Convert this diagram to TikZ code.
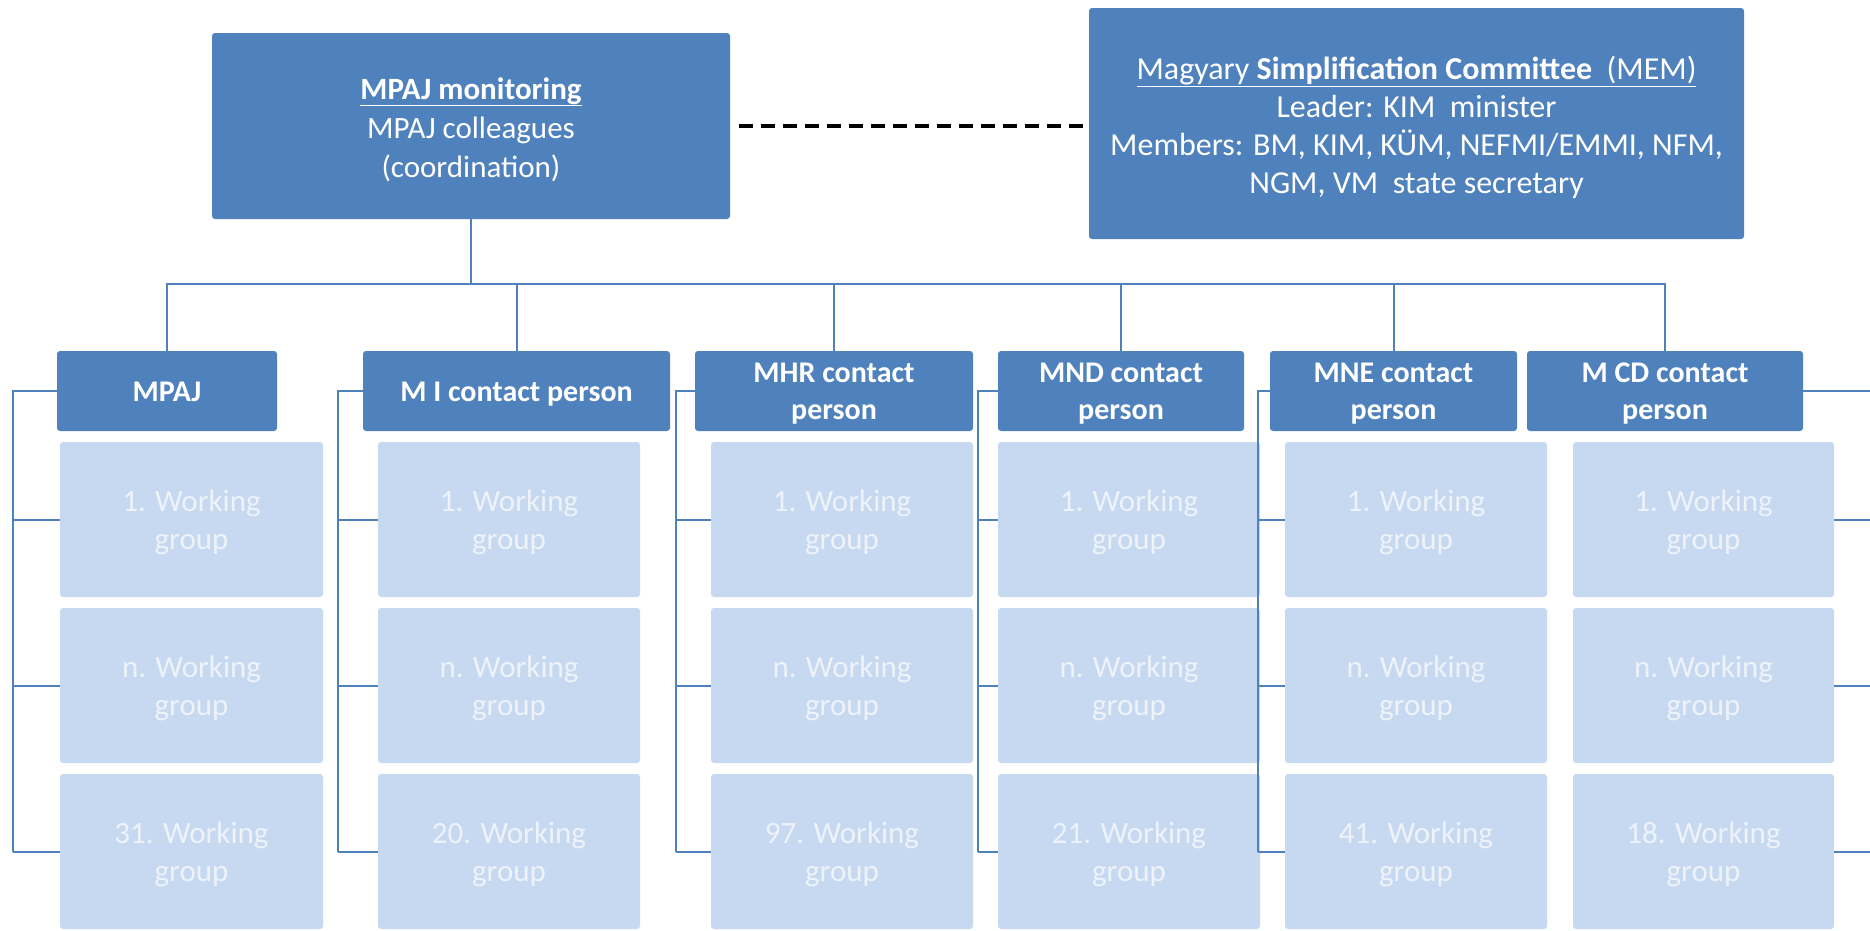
\documentclass[tikz,border=0pt]{standalone}
\usepackage{fontspec}
\setmainfont{Carlito}
\usetikzlibrary{positioning}
\definecolor{boxblue}{HTML}{4F81BD}
\definecolor{wgfill}{HTML}{C6D9F1}
\definecolor{wgtext}{HTML}{EEF3FA}
\newcommand{\fsz}[2]{\fontsize{#1}{#2}\selectfont}

\begin{document}
\begin{tikzpicture}[x=1pt,y=-1pt,
        topbox/.style={fill=boxblue,rounded corners=3pt,text=white,align=center,inner sep=0pt,text depth=0pt},
        headbox/.style={topbox,minimum height=80pt,font=\bfseries\fsz{30}{37}},
        wgbox/.style={fill=wgfill,rounded corners=3pt,text=wgtext,align=center,inner sep=0pt,minimum height=155pt,text height=60.5pt,text depth=0pt,font=\fsz{31}{38}},
        link/.style={draw=boxblue,line width=2pt},
        dashlink/.style={draw=black,line width=4pt,dash pattern=on 14pt off 8pt,shorten <=9pt}]
        \useasboundingbox (0,0) rectangle (1870,930);
        \clip (0,0) rectangle (1870,930);
        \node[topbox,minimum width=518pt,minimum height=186pt,text height=102pt,font=\fsz{31}{39}] (mon) at (471,126) {\underline{\textbf{MPAJ monitoring}}\\MPAJ colleagues\\(coordination)};
        \node[topbox,minimum width=655pt,minimum height=231pt,text height=139.5pt,font=\fsz{32}{38}] (mem) at (1416.5,123.5) {\underline{Magyary \textbf{Simplification Committee}\ \ (MEM)}\\Leader: KIM\ \ minister\\Members: BM, KIM, KÜM, NEFMI/EMMI, NFM,\\NGM, VM\ \ state secretary};
        \draw[dashlink] (mon.east) -- (mon.east -| mem.west);
        % columns: name / header left / header right / group left / group right / bracket x / side / last group / text height / title
        \foreach \id/\hl/\hr/\wl/\wr/\bx/\side/\last/\th/\txt in {
          mpaj/57/277/60/323/13/west/31/21.5/{MPAJ},
          mi/363/670/378/640/338/west/20/21.5/{M I contact person},
          mhr/695/973/711/973/676/west/97/57.5/{MHR contact\\person},
          mnd/998/1244/998/1260/978/west/21/57.5/{MND contact\\person},
          mne/1270/1517/1285/1547/1258/west/41/57.5/{MNE contact\\person},
          mcd/1527/1803/1573/1834/1885/east/18/57.5/{M CD contact\\person}}{
          \node[headbox,minimum width={\hr-\hl},text height=\th pt] (\id) at ({(\hl+\hr)/2},391) {\txt};
          \draw[link] (mon.south) -- ++(0,65) -| (\id.north);
          \coordinate (\id-top) at (\bx,391);
          \coordinate (\id-bot) at (\bx,851.5);
          \draw[link] (\id.\side) -- (\id-top) -- (\id-bot);
          \foreach \r/\num/\yc in {1/1/519.5,2/n/685.5,3/\last/851.5}{
            \node[wgbox,minimum width={\wr-\wl}] (\id-\r) at ({(\wl+\wr)/2},\yc) {\num. Working\\group};
            \draw[link] (\id-\r.\side) -- (\id-\r.\side -| \id-top);
          }
        }
      \end{tikzpicture}
\end{document}
